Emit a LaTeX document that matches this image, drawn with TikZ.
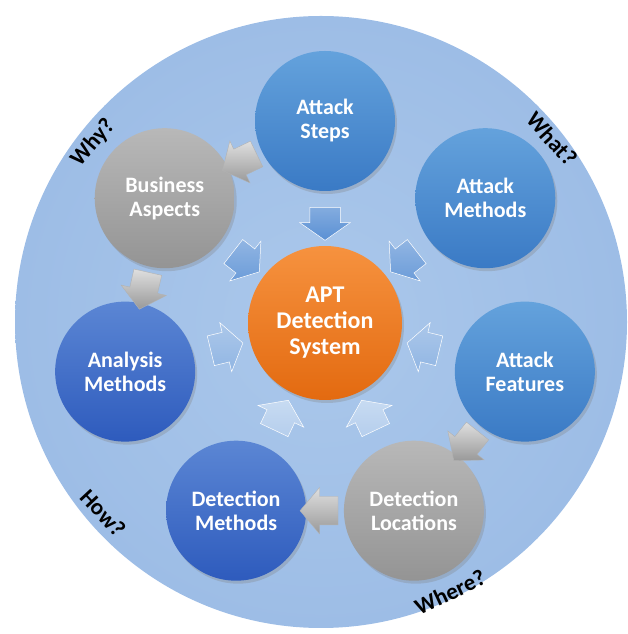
\documentclass[tikz,border=0pt]{standalone}
\usepackage{fontspec}
\setmainfont{Carlito}
\usepackage{tikz}
\usetikzlibrary{shapes.arrows, shadows, calc}

\definecolor{ringhell}{HTML}{ABC8EB}
\definecolor{ringdunkel}{HTML}{9DBDE6}
\definecolor{blauoben}{HTML}{64A2DC}
\definecolor{blauunten}{HTML}{3A7AC5}
\definecolor{dunkeloben}{HTML}{5B86D4}
\definecolor{dunkelunten}{HTML}{2E5BBD}
\definecolor{grauoben}{HTML}{B8B8B8}
\definecolor{grauunten}{HTML}{949494}
\definecolor{orangeoben}{HTML}{F6923F}
\definecolor{orangeunten}{HTML}{E36A10}
\definecolor{pfeilhell}{HTML}{D3E3F5}
\definecolor{pfeilblau}{HTML}{5A90D4}

\tikzset{
	blaupfeil/.style={single arrow, minimum height=33pt, inner xsep=0pt, inner ysep=15pt,
		single arrow head extend=10pt, single arrow tip angle=110,
		top color=pfeilblau!#1!pfeilhell!75!white, bottom color=pfeilblau!#1!pfeilhell,
		draw=white, line width=0.5pt}
}

\begin{document}
\begin{tikzpicture}[x=1pt, y=1pt,
	kreis/.style={circle, minimum size=140pt, inner sep=0pt, align=center, text=white,
		font=\fontsize{22}{24}\selectfont\bfseries,
		drop shadow={opacity=0.3, shadow xshift=2pt, shadow yshift=-3pt}},
	hellkreis/.style={kreis, top color=blauoben, bottom color=blauunten},
	dunkelkreis/.style={kreis, top color=dunkeloben, bottom color=dunkelunten},
	graukreis/.style={kreis, top color=grauoben, bottom color=grauunten},
	frage/.style={font=\fontsize{23}{25}\selectfont\bfseries, text=black, inner sep=1pt},
	graupfeil/.style={single arrow, minimum height=38pt, inner xsep=0pt, inner ysep=14pt,
		single arrow head extend=9pt, single arrow tip angle=100,
		top color=gray!25, bottom color=gray!80, draw=gray!60, line width=0.4pt}
	]
	\useasboundingbox (0,0) rectangle (628,634);
	
	% Hintergrund
	\shade[inner color=ringhell, outer color=ringdunkel] (321,312) circle (306);
	
	% Mitte
	\coordinate (ring) at (325,308);
	\node[kreis, minimum size=154pt, top color=orangeoben, bottom color=orangeunten,
		font=\fontsize{24}{26}\selectfont\bfseries] (apt) at (325,311) {APT\\Detection\\System};
	
	% Kreise ringsum
	\foreach \name/\winkel/\art/\txt in {
		steps/90/hellkreis/{Attack\\Steps},
		methods/38.57/hellkreis/{Attack\\Methods},
		features/-12.86/hellkreis/{Attack\\Features},
		locations/-64.29/graukreis/{Detection\\Locations},
		detmeth/-115.71/dunkelkreis/{Detection\\Methods},
		analysis/192.86/dunkelkreis/{Analysis\\Methods},
		business/141.43/graukreis/{Business\\Aspects}} {
		\node[style=\art] (\name) at ($(ring)+(\winkel:205)$) {\txt};
	}
	
	% Pfeile zur Mitte
	\foreach \name/\stark in {steps/100, methods/85, business/85, features/55, analysis/55, locations/25, detmeth/25} {
		\path (\name) -- (apt) node[midway, sloped, allow upside down, blaupfeil=\stark] {};
	}
	
	% graue Pfeile
	\foreach \von/\nach in {steps/business, business/analysis, features/locations, locations/detmeth} {
		\path (\von) -- (\nach) node[midway, sloped, allow upside down, graupfeil] {};
	}
	
	% Fragen
	\node[frage, rotate=49] (why) at (93,491) {Why?};
	\node[frage, rotate=-48] (what) at (552,495) {What?};
	\node[frage, rotate=-47] (how) at (103,121) {How?};
	\node[frage, rotate=25] (where) at (450,42) {Where?};
\end{tikzpicture}
\end{document}
